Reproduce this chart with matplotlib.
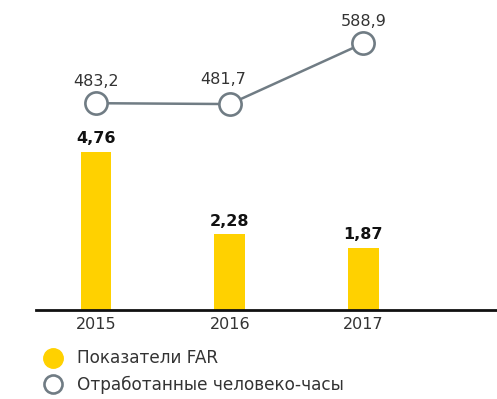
import matplotlib
matplotlib.use("Agg")
import matplotlib.pyplot as plt
from matplotlib.lines import Line2D

years = ["2015", "2016", "2017"]
far_values = [4.76, 2.28, 1.87]
hours_values = [483.2, 481.7, 588.9]
far_labels = ["4,76", "2,28", "1,87"]
hours_labels = ["483,2", "481,7", "588,9"]
legend_labels = ["Показатели FAR", "Отработанные человеко-часы"]

BAR_COLOR = "#FFD100"
LINE_COLOR = "#707C84"
TEXT_COLOR = "#333333"

W, H = 497, 399
fig = plt.figure(figsize=(W / 100, H / 100), dpi=100)
ax = fig.add_axes([36 / W, (H - 310) / H, (W - 36) / W, 310 / H])

x = list(range(len(years)))
ax.bar(x, far_values, width=0.23, color=BAR_COLOR, zorder=2)
for xi, v, lab in zip(x, far_values, far_labels):
    ax.annotate(lab, (xi, v), xytext=(0, 4), textcoords="offset points",
                ha="center", va="bottom", fontsize=11.5, fontweight="bold",
                color="#111111")

ax.set_xlim(-0.45, 3.0)
ax.set_ylim(0, 9.31)
ax.set_xticks(x)
ax.set_xticklabels(years, fontsize=11.5, color=TEXT_COLOR)
ax.tick_params(axis="x", length=0, pad=5)
ax.set_yticks([])
for s in ["top", "right", "left"]:
    ax.spines[s].set_visible(False)
ax.spines["bottom"].set_linewidth(2)
ax.spines["bottom"].set_color("#111111")
ax.patch.set_alpha(0)

ax2 = ax.twinx()
ax2.set_ylim(118.5, 665.2)
ax2.plot(x, hours_values, color=LINE_COLOR, lw=1.8, marker="o",
         markersize=16, markerfacecolor="white", markeredgecolor=LINE_COLOR,
         markeredgewidth=1.9, zorder=3)
label_shift = [(0, 10), (-5, 12), (0, 10)]
for xi, v, lab, off in zip(x, hours_values, hours_labels, label_shift):
    ax2.annotate(lab, (xi, v), xytext=off, textcoords="offset points",
                 ha="center", va="bottom", fontsize=11.5, color=TEXT_COLOR)
ax2.set_yticks([])
for s in ax2.spines.values():
    s.set_visible(False)

handles = [
    Line2D([], [], ls="none", marker="o", markersize=14,
           markerfacecolor=BAR_COLOR, markeredgecolor=BAR_COLOR),
    Line2D([], [], ls="none", marker="o", markersize=13,
           markerfacecolor="white", markeredgecolor=LINE_COLOR,
           markeredgewidth=1.9),
]
fig.legend(handles, legend_labels, loc="upper left",
           bbox_to_anchor=(34 / W, (H - 341) / H), frameon=False,
           fontsize=12.2, labelcolor=TEXT_COLOR, handletextpad=0.85,
           labelspacing=0.5, borderpad=0, handlelength=1.2)

fig.savefig("out.png", dpi=100)
